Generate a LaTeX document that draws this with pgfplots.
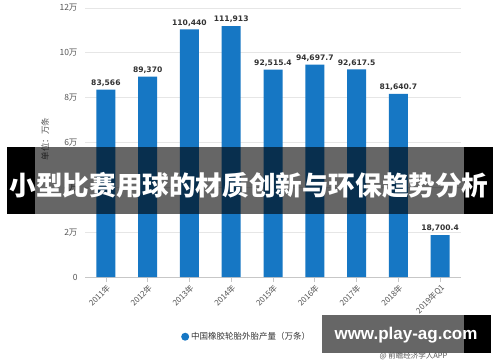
\documentclass[border=0pt]{standalone}
\usepackage{pgfplots}
\pgfplotsset{compat=1.18}
\usepackage{fontspec}
\setmainfont{Noto Sans CJK SC}
\newfontfamily\cjk{Noto Sans CJK SC}
\newfontfamily\dv{DejaVu Sans}
\newfontfamily\lib{Liberation Sans}
\definecolor{barblue}{HTML}{1677C4}
\definecolor{txtgray}{HTML}{555555}
\definecolor{gridgray}{HTML}{E6E6E6}
\definecolor{lblgray}{HTML}{333333}
\begin{document}
\begin{tikzpicture}
\useasboundingbox[fill=white] (0pt,0pt) rectangle (500pt,362pt);
\begin{axis}[
  at={(85pt,85pt)}, anchor=south west,
  scale only axis, width=376pt, height=269pt,
  xmin=-0.5, xmax=8.5, ymin=0, ymax=120000,
  axis x line*=bottom, axis y line*=left,
  x axis line style={draw=gridgray!70!gray, line width=0.8pt, -},
  y axis line style={draw=none},
  xtick={0,...,8},
  xticklabels={2011年,2012年,2013年,2014年,2015年,2016年,2017年,2018年,2019年Q1},
  xticklabel style={rotate=45, anchor=north east, font=\cjk\fontsize{8}{8}\selectfont, text=txtgray, inner sep=1pt},
  x tick style={draw=gridgray!70!gray, line width=0.6pt},
  xtick align=outside, major tick length=5pt,
  ytick={0,20000,40000,60000,80000,100000,120000},
  yticklabels={0,2万,4万,6万,8万,10万,12万},
  yticklabel style={font=\cjk\fontsize{8.5}{8.5}\selectfont, text=txtgray, xshift=-4pt},
  ymajorgrids, major y grid style={draw=gridgray, line width=0.8pt},
  y tick style={draw=none},
  ybar, bar width=19pt,
  nodes near coords, point meta=explicit symbolic,
  nodes near coords style={font=\dv\bfseries\fontsize{7.6}{7.6}\selectfont, text=lblgray, inner sep=1pt, yshift=2pt},
  legend style={at={(0.43,-0.222)}, anchor=center, draw=none, fill=none, font=\cjk\fontsize{8.5}{8.5}\selectfont, text=lblgray},
  legend image code/.code={\fill[barblue] (0.15cm,0cm) circle (4pt);},
]
\addplot[fill=barblue, draw=none] coordinates {
 (0,83566) [83,566]
 (1,89370) [89,370]
 (2,110440) [110,440]
 (3,111913) [111,913]
 (4,92515.4) [92,515.4]
 (5,94697.7) [94,697.7]
 (6,92617.5) [92,617.5]
 (7,81640.7) [81,640.7]
 (8,18700.4) [18,700.4]
};
\addlegendentry{中国橡胶轮胎外胎产量（万条）}
\end{axis}
% y-axis unit label
\node[rotate=90, font=\cjk\fontsize{8.5}{8.5}\selectfont, text=txtgray] at (45pt,223pt) {单位：万条};
% banner
\fill[black] (7pt,148pt) rectangle (35pt,215pt);
\fill[black] (464pt,148pt) rectangle (493pt,215pt);
\fill[black, opacity=0.6] (35pt,148pt) rectangle (464pt,215pt);
\node[white, font=\cjk\bfseries\fontsize{26.6}{26.6}\selectfont] at (249pt,177pt) {小型比赛用球的材质创新与环保趋势分析};
% bottom watermark
\fill[black, opacity=0.6] (322pt,9pt) rectangle (464pt,47pt);
\fill[black] (464pt,9pt) rectangle (491pt,47pt);
\node[white, font=\lib\bfseries\fontsize{17}{17}\selectfont] at (406pt,27pt) {www.play-ag.com};
\node[anchor=west, font=\cjk\fontsize{7.5}{7.5}\selectfont, text=txtgray] at (376pt,6pt) {@ 前瞻经济学人APP};
\end{tikzpicture}
\end{document}
